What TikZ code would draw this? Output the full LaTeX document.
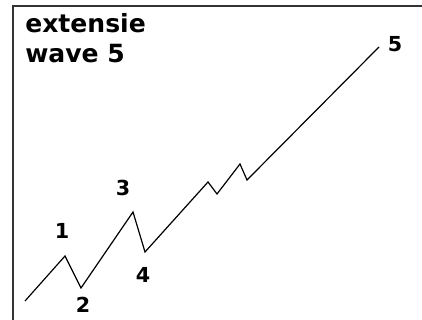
\documentclass[tikz,border=0pt]{standalone}
\usepackage{fontspec}
\setmainfont{DejaVu Sans}
\usetikzlibrary{positioning, calc}

\begin{document}
\begin{tikzpicture}[
    x=0.75pt, y=-0.75pt,
    frame/.style={
        draw=black!80,
        line width=1.5pt
    },
    wave/.style={
        draw=black,
        line width=0.9pt,
        line join=miter
    },
    title/.style={
        inner sep=0pt,
        anchor=base west,
        font=\bfseries\fontsize{18.8}{22.5}\selectfont
    },
    point/.style={
        inner sep=0pt,
        font=\bfseries\fontsize{15.5}{18}\selectfont
    }
]

    \useasboundingbox (0,0) rectangle (422,320);
    \fill[white] (0,0) rectangle (422,320);

    % Frame (left and top only)
    \draw[frame] (13,320) -- (13,6) -- (422,6);

    % Title
    \node[title] (ext) at (25,33) {extensie};
    \node[title] (wv) at (25,63) {wave 5};

    % Wave points
    \coordinate (w0) at (25,301);
    \coordinate (w1) at (65,256);
    \coordinate (w2) at (81,288);
    \coordinate (w3) at (133,212);
    \coordinate (w4) at (145,252);
    \coordinate (w5a) at (208,182);
    \coordinate (w5b) at (217,194);
    \coordinate (w5c) at (240,164);
    \coordinate (w5d) at (247,180);
    \coordinate (w5) at (379,47);

    \draw[wave] (w0) -- (w1) -- (w2) -- (w3) -- (w4) -- (w5a) -- (w5b)
        -- (w5c) -- (w5d) -- (w5);

    % Labels
    \node[point] (l1) at (62,231) {1};
    \node[point] (l2) at (83,305) {2};
    \node[point] (l3) at (123,188) {3};
    \node[point] (l4) at (143,275) {4};
    \node[point] (l5) at (395,44) {5};

\end{tikzpicture}
\end{document}
